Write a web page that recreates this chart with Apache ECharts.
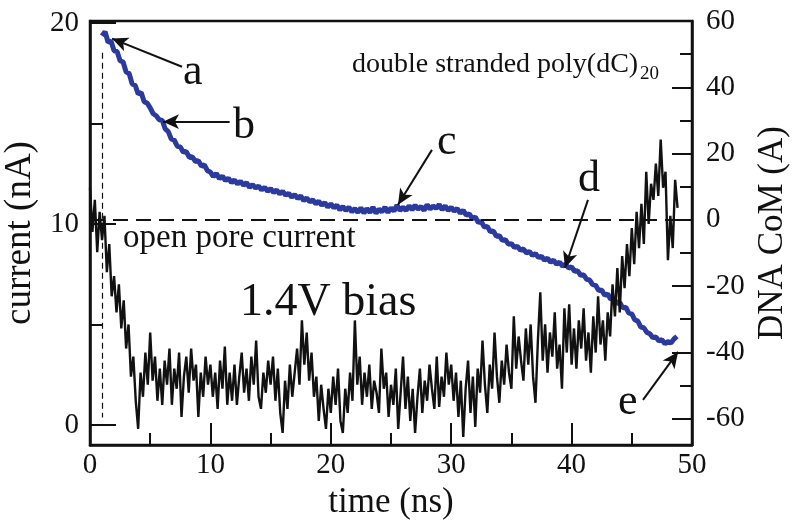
<!DOCTYPE html>
<html>
<head>
<meta charset="utf-8">
<script src="https://cdn.jsdelivr.net/npm/echarts@6/dist/echarts.min.js"></script>
<style>html,body{margin:0;padding:0;background:#fff;}#chart{width:800px;height:523px;}</style>
</head>
<body>
<div id="chart"></div>
<script>
// ---- data ----
const xTicks = [0, 10, 20, 30, 40, 50];
const currentTicks = [0, 10, 20];
const currentMinorTicks = [5, 15];
const comTicks = [-60, -40, -20, 0, 20, 40, 60];
const comMinorTicks = [-50, -30, -10, 10, 30, 50];

// current (nA), sampled every 0.2 ns from t = 0
const currentStart = 0, currentStep = 0.2;
const currentNA = [
 11.8, 9.6, 11.2, 8.6, 10.6,  9.2, 10.4, 7.6, 9.0, 6.4,  7.4, 5.6, 7.0, 4.8, 6.2,
 3.8, 5.0, 2.4, 3.4, 1.2,  -0.2, 2.6, 1.4, 3.6, 2.0,  4.6, 2.2, 3.4, 1.2, 2.8,
 1.0, 3.2, 2.0, 3.8, 1.0,  2.8, 1.8, 3.6, 0.4, 2.4,  3.4, 1.6, 3.8, 2.2, 3.0,
 0.4, 2.6, 1.4, 3.4, 2.0,  3.0, 1.4, 2.6, 0.8, 3.2,  1.8, 3.9, 1.0, 2.6, 1.2,
 3.0, 1.0, 2.4, 3.6, 1.6,  2.8, 1.2, 3.4, 2.0, 4.2,  1.4, 0.8, 2.6, 1.6, 3.2,
 2.0, 3.4, 1.2, 2.8, 0.6,  -0.4, 2.2, 0.8, 3.0, 1.4,  2.6, 3.8, 2.0, 5.2, 3.0,
 4.6, 2.2, 3.6, 1.4, 2.4,  0.2, 2.0, 0.8, -0.2, 1.8,  0.6, 2.4, 1.0, 2.8, 0.2,
 -0.4, 1.8, 0.6, 2.6, 1.2,  5.2, 2.0, 3.4, 1.0, 2.6,  1.4, 3.0, 0.8, 2.2, 1.6,
 0.6, 3.8, 1.8, 2.6, 0.4,  2.0, 1.0, 2.8, -0.2, 1.6,  3.4, 0.8, 2.4, 0.2, 1.8,
 -0.4, 1.4, 2.8, 0.6, 2.2,  1.2, 3.0, 1.8, 0.8, 3.4,  0.9, 2.4, 1.4, 3.6, 2.0,
 3.0, 1.2, 2.6, 0.4, 2.2,  -0.6, 1.8, 3.2, 0.6, 2.4,  -0.1, 2.8, 1.6, 4.2, 2.0,
 0.6, 3.0, 1.8, 4.6, 2.4,  1.1, 3.2, 2.0, 4.0, 2.6,  1.8, 5.4, 2.8, 4.4, 3.2,
 2.2, 4.8, 3.0, 5.0, 2.4,  1.1, 4.2, 6.6, 3.2, 5.0,  2.6, 4.6, 3.4, 5.6, 2.8,
 4.0, 1.8, 5.8, 3.6, 6.0,  3.0, 4.8, 2.8, 5.2, 3.8,  5.8, 3.2, 4.6, 2.6, 5.4,
 3.6, 6.4, 4.0, 5.2, 3.2,  5.6, 4.4, 7.0, 5.4, 7.8,  5.6, 8.4, 6.8, 9.0, 7.4,
 9.8, 8.0, 10.6, 8.8, 11.0,  9.0, 12.6, 10.0, 12.0, 11.2,  13.0, 11.4, 14.2, 11.8, 12.6,
 8.2, 10.4, 8.8, 12.2, 10.8
];

// DNA centre of mass (A), sampled every 0.25 ns from t = 1.0
const comStart = 1.0, comStep = 0.25;
const dnaCoM = [
 55.5, 56.8, 53.6, 53.9, 51.0, 50.8, 48.0, 47.6, 44.6, 44.2, 41.0, 40.6,
 38.0, 38.4, 35.6, 35.2, 33.8, 32.0, 31.4, 30.2, 30.0, 27.4, 26.6, 24.4,
 24.0, 22.2, 22.0, 20.4, 20.6, 18.8, 19.0, 17.6, 17.8, 16.2, 16.6, 14.8,
 14.4, 13.0, 14.0, 12.4, 13.2, 11.8, 12.6, 11.2, 12.0, 10.8, 11.6, 10.4,
 11.2, 9.8, 10.6, 9.6, 10.2, 9.0, 9.8, 8.6, 9.4, 8.2, 9.0, 7.8,
 8.6, 7.4, 8.0, 6.8, 7.6, 6.4, 7.2, 5.8, 6.6, 5.4, 6.0, 4.8,
 5.6, 4.4, 5.2, 3.8, 4.8, 3.6, 4.4, 3.0, 4.0, 2.8, 3.8, 2.4,
 3.4, 2.2, 3.6, 2.0, 3.4, 2.2, 3.8, 2.0, 3.2, 2.4, 3.8, 2.2,
 3.6, 2.6, 4.4, 2.8, 3.8, 2.8, 4.2, 3.0, 4.4, 3.2, 4.0, 2.8,
 4.6, 3.2, 4.2, 3.4, 4.6, 3.0, 4.2, 2.8, 3.8, 2.6, 3.4, 2.0,
 2.8, 1.4, 1.8, 0.4, 0.8, -0.8, -0.6, -2.2, -2.0, -3.6, -3.4, -5.0,
 -4.8, -6.2, -6.0, -7.4, -7.2, -8.4, -8.0, -9.2, -8.8, -10.0, -9.6, -10.8,
 -10.2, -11.4, -11.0, -12.2, -11.6, -12.8, -12.2, -13.4, -12.8, -14.0, -13.4, -14.6,
 -14.2, -15.6, -15.4, -16.8, -16.6, -18.0, -18.2, -19.6, -19.8, -21.4, -21.2, -22.8,
 -22.4, -24.0, -23.6, -25.2, -25.0, -26.6, -26.4, -28.2, -28.4, -30.2, -30.6, -32.4,
 -32.6, -34.0, -34.4, -35.6, -35.4, -36.6, -36.2, -37.4, -36.8, -37.2, -36.0, -35.2
];

// annotation arrows: [tail t, tail CoM, tip t, tip CoM]
const arrows = [
 [7.64, 46.2, 1.83, 54.7],
 [11.6, 29.6, 6.06, 29.6],
 [28.4, 21.1, 25.58, 4.5],
 [41.36, 6.0, 39.45, -14.5],
 [45.93, -54.4, 48.84, -39.9]
];
const openPoreCoM = 0;       // dashed horizontal reference
const injectionTime = 1.0;   // dashed vertical reference
const injectionSpan = [50.4, -59.7];

// ---- chart ----
const FONT = "'Liberation Serif','DejaVu Serif',serif";
const black = '#111';
const blue = '#2b3a9e';

const currentData = currentNA.map((v, i) => [+(currentStart + i * currentStep).toFixed(2), v]);
const comData = dnaCoM.map((v, i) => [+(comStart + i * comStep).toFixed(2), v]);

const arrowLines = arrows.map(a => [
  {coord: [a[0], a[1]], symbol: 'none'},
  {coord: [a[2], a[3]], symbol: 'arrow', symbolSize: [11, 16]}
]);

const chart = echarts.init(document.getElementById('chart'), null, {renderer: 'canvas'});
const tickLabel = {fontFamily: FONT, fontSize: 29, color: black};

chart.setOption({
  animation: false,
  backgroundColor: '#fff',
  grid: {left: 90, right: 108, top: 21, bottom: 78, show: true, borderColor: black, borderWidth: 2.5,
         backgroundColor: 'transparent', containLabel: false, outerBoundsMode: 'none'},
  xAxis: {
    type: 'value', min: 0, max: 50, interval: 10,
    name: 'time (ns)', nameLocation: 'middle', nameGap: 32,
    nameTextStyle: {fontFamily: FONT, fontSize: 35, color: black},
    axisLine: {show: true, onZero: false, lineStyle: {color: black, width: 2.5}},
    axisTick: {show: true, inside: true, length: 22, lineStyle: {color: black, width: 2}},
    minorTick: {show: true, splitNumber: 2, length: 12, lineStyle: {color: black, width: 2}},
    axisLabel: Object.assign({margin: 6}, tickLabel),
    splitLine: {show: false}
  },
  yAxis: [
    {
      type: 'value', position: 'left', min: -1, max: 20.1,
      name: 'current (nA)', nameLocation: 'middle', nameGap: 45,
      nameTextStyle: {fontFamily: FONT, fontSize: 37, color: black},
      axisLine: {show: true, onZero: false, lineStyle: {color: black, width: 2.5}},
      axisTick: {show: true, inside: true, length: 26, customValues: currentTicks, lineStyle: {color: black, width: 2}},
      axisLabel: Object.assign({margin: 11, customValues: currentTicks}, tickLabel),
      splitLine: {show: false}
    },
    {
      type: 'value', position: 'left', min: -1, max: 20.1,
      axisLine: {show: false, onZero: false},
      axisTick: {show: true, inside: true, length: 13, customValues: currentMinorTicks, lineStyle: {color: black, width: 2}},
      axisLabel: {show: false},
      splitLine: {show: false}
    },
    {
      type: 'value', position: 'right', min: -68, max: 60,
      name: 'DNA CoM (A)', nameLocation: 'middle', nameGap: 62,
      nameTextStyle: {fontFamily: FONT, fontSize: 35, color: black},
      axisLine: {show: true, onZero: false, lineStyle: {color: black, width: 2.5}},
      axisTick: {show: true, inside: true, length: 20, customValues: comTicks, lineStyle: {color: black, width: 2}},
      axisLabel: Object.assign({margin: 14, customValues: comTicks}, tickLabel),
      splitLine: {show: false}
    },
    {
      type: 'value', position: 'right', min: -68, max: 60,
      axisLine: {show: false, onZero: false},
      axisTick: {show: true, inside: true, length: 12, customValues: comMinorTicks, lineStyle: {color: black, width: 2}},
      axisLabel: {show: false},
      splitLine: {show: false}
    }
  ],
  series: [
    {
      name: 'DNA CoM', type: 'line', yAxisIndex: 2, data: comData,
      showSymbol: false, symbol: 'none', lineStyle: {color: blue, width: 5}, z: 2,
      markLine: {
        silent: true, symbol: 'none', label: {show: false},
        lineStyle: {color: black, width: 2, type: [15, 8]},
        data: [[{coord: [0, openPoreCoM]}, {coord: [50, openPoreCoM]}]]
      }
    },
    {
      name: 'current', type: 'line', yAxisIndex: 0, data: currentData,
      showSymbol: false, symbol: 'none', lineStyle: {color: black, width: 2.4}, z: 3
    },
    {
      name: 'annotations', type: 'line', yAxisIndex: 2, data: [], z: 4,
      markLine: {
        silent: true, label: {show: false},
        lineStyle: {color: black, width: 2, type: 'solid'},
        itemStyle: {color: black},
        data: arrowLines.concat([[
          {coord: [injectionTime, injectionSpan[0]], symbol: 'none', lineStyle: {width: 1.2, type: [6, 4]}},
          {coord: [injectionTime, injectionSpan[1]], symbol: 'none'}
        ]])
      }
    }
  ],
  graphic: [
    {type: 'text', left: 352, top: 51, style: {text: 'double stranded poly(dC)', font: "28px " + FONT, fill: black}},
    {type: 'text', left: 640, top: 65, style: {text: '20', font: "19px " + FONT, fill: black}},
    {type: 'text', left: 123, top: 222, style: {text: 'open pore current', font: "33px " + FONT, fill: black}},
    {type: 'text', left: 240, top: 280, style: {text: '1.4V bias', font: "46px " + FONT, fill: black}},
    {type: 'text', left: 183, top: 50, style: {text: 'a', font: "44px " + FONT, fill: black}},
    {type: 'text', left: 233, top: 104, style: {text: 'b', font: "44px " + FONT, fill: black}},
    {type: 'text', left: 437, top: 120, style: {text: 'c', font: "44px " + FONT, fill: black}},
    {type: 'text', left: 578, top: 157, style: {text: 'd', font: "44px " + FONT, fill: black}},
    {type: 'text', left: 618, top: 380, style: {text: 'e', font: "44px " + FONT, fill: black}}
  ]
});
</script>
</body>
</html>
